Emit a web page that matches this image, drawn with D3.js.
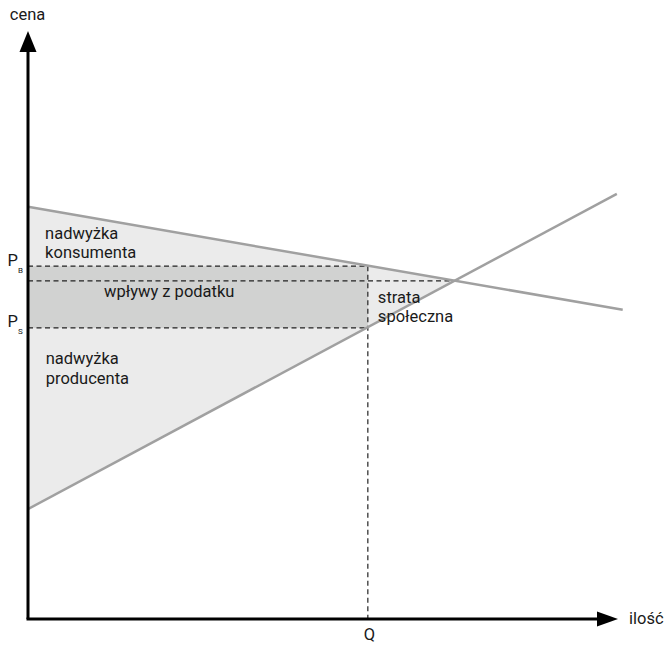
<!DOCTYPE html>
<html>
<head>
<meta charset="utf-8">
<script src="https://cdn.jsdelivr.net/npm/d3@7"></script>
<style>
  body { margin: 0; background: #fff; }
  svg { display: block; font-family: Roboto, "Open Sans", sans-serif; }
</style>
</head>
<body>
<div id="chart"></div>
<script>
// Curves as [quantity, price] endpoints (arbitrary units, axes run 0..100)
const demand = [[0, 70.1], [100.8, 52.6]];
const supply = [[0, 18.7], [99.8, 72.3]];

// Tax wedge
const priceBuyer = 60.0;
const priceSeller = 49.5;
const priceEq = 57.5;
const quantityTax = 57.6;

const priceLabels = [
  { main: "P", sub: "B", value: priceBuyer },
  { main: "P", sub: "S", value: priceSeller }
];
const axisLabels = { x: "ilość", y: "cena", q: "Q" };

const areaLabels = [
  { lines: ["nadwyżka", "konsumenta"], q: 2.9, p: 64.7 },
  { lines: ["wpływy z podatku"], q: 12.9, p: 54.8 },
  { lines: ["strata", "społeczna"], q: 59.3, p: 53.8 },
  { lines: ["nadwyżka", "producenta"], q: 3.0, p: 43.3 }
];

const width = 669;
const height = 647;
const lightFill = "#ebebeb";
const darkFill = "#d1d2d1";
const curveColor = "#a0a0a0";
const ink = "#1a1a1a";

const x = d3.scaleLinear().domain([0, 100]).range([28, 618]);
const y = d3.scaleLinear().domain([0, 100]).range([619, 31]);

// where the two curves cross (used for the triangle and equilibrium dashed line)
function lineAt(pts, q) {
  const [[q0, p0], [q1, p1]] = pts;
  return p0 + (p1 - p0) * (q - q0) / (q1 - q0);
}
const sd = (supply[1][1] - supply[0][1]) / (supply[1][0] - supply[0][0]);
const dd = (demand[1][1] - demand[0][1]) / (demand[1][0] - demand[0][0]);
const qEq = (demand[0][1] - supply[0][1]) / (sd - dd);

const svg = d3.select("#chart").append("svg")
  .attr("width", width)
  .attr("height", height);

const line = d3.line().x(d => x(d[0])).y(d => y(d[1]));

// surplus triangle
svg.append("path")
  .attr("d", line([[0, demand[0][1]], [qEq, lineAt(demand, qEq)], [0, supply[0][1]]]) + "Z")
  .attr("fill", lightFill);

// tax revenue rectangle
svg.append("rect")
  .attr("x", x(0))
  .attr("y", y(priceBuyer))
  .attr("width", x(quantityTax) - x(0))
  .attr("height", y(priceSeller) - y(priceBuyer))
  .attr("fill", darkFill);

// dashed guides
const guides = [
  [[0, priceBuyer], [quantityTax, priceBuyer]],
  [[0, priceEq], [qEq, priceEq]],
  [[0, priceSeller], [quantityTax, priceSeller]],
  [[quantityTax, priceBuyer], [quantityTax, 0]]
];
svg.append("g")
  .attr("fill", "none")
  .attr("stroke", "#222")
  .attr("stroke-width", 1.2)
  .attr("stroke-dasharray", "5,3.5")
  .selectAll("path")
  .data(guides)
  .join("path")
  .attr("d", line);

// supply and demand
svg.append("g")
  .attr("fill", "none")
  .attr("stroke", curveColor)
  .attr("stroke-width", 2.5)
  .selectAll("path")
  .data([demand, supply])
  .join("path")
  .attr("d", line);

// axes with arrows
const axes = svg.append("g").attr("stroke", "#000").attr("stroke-width", 3);
axes.append("line")
  .attr("x1", x(0)).attr("y1", y(0))
  .attr("x2", x(0)).attr("y2", y(100) + 18);
axes.append("line")
  .attr("x1", x(0) - 1.5).attr("y1", y(0))
  .attr("x2", x(100) - 18).attr("y2", y(0));
svg.append("path")
  .attr("d", `M${x(0)},${y(100)}L${x(0) - 8.5},${y(100) + 21}L${x(0) + 8.5},${y(100) + 21}Z`)
  .attr("fill", "#000");
svg.append("path")
  .attr("d", `M${x(100)},${y(0)}L${x(100) - 21},${y(0) - 7.5}L${x(100) - 21},${y(0) + 7.5}Z`)
  .attr("fill", "#000");

// texts
const text = svg.append("g").attr("fill", ink).attr("font-size", 16.5);

text.append("text")
  .attr("x", x(0) - 0.5).attr("y", 20)
  .attr("text-anchor", "middle")
  .text(axisLabels.y);
text.append("text")
  .attr("x", 629).attr("y", 624)
  .text(axisLabels.x);
text.append("text")
  .attr("x", x(quantityTax) + 1.5).attr("y", 640)
  .attr("text-anchor", "middle")
  .text(axisLabels.q);

const pl = text.selectAll("g.plabel")
  .data(priceLabels)
  .join("g")
  .attr("class", "plabel")
  .attr("transform", d => `translate(7.5, ${y(d.value) - 0.5})`);
pl.append("text").text(d => d.main);
pl.append("text")
  .attr("x", 10.5).attr("y", 7)
  .attr("font-size", 8)
  .text(d => d.sub);

text.selectAll("text.area")
  .data(areaLabels)
  .join("text")
  .attr("class", "area")
  .attr("transform", d => `translate(${x(d.q)}, ${y(d.p)})`)
  .selectAll("tspan")
  .data(d => d.lines)
  .join("tspan")
  .attr("x", 0)
  .attr("dy", (d, i) => i === 0 ? 0 : 19.5)
  .text(d => d);
</script>
</body>
</html>
